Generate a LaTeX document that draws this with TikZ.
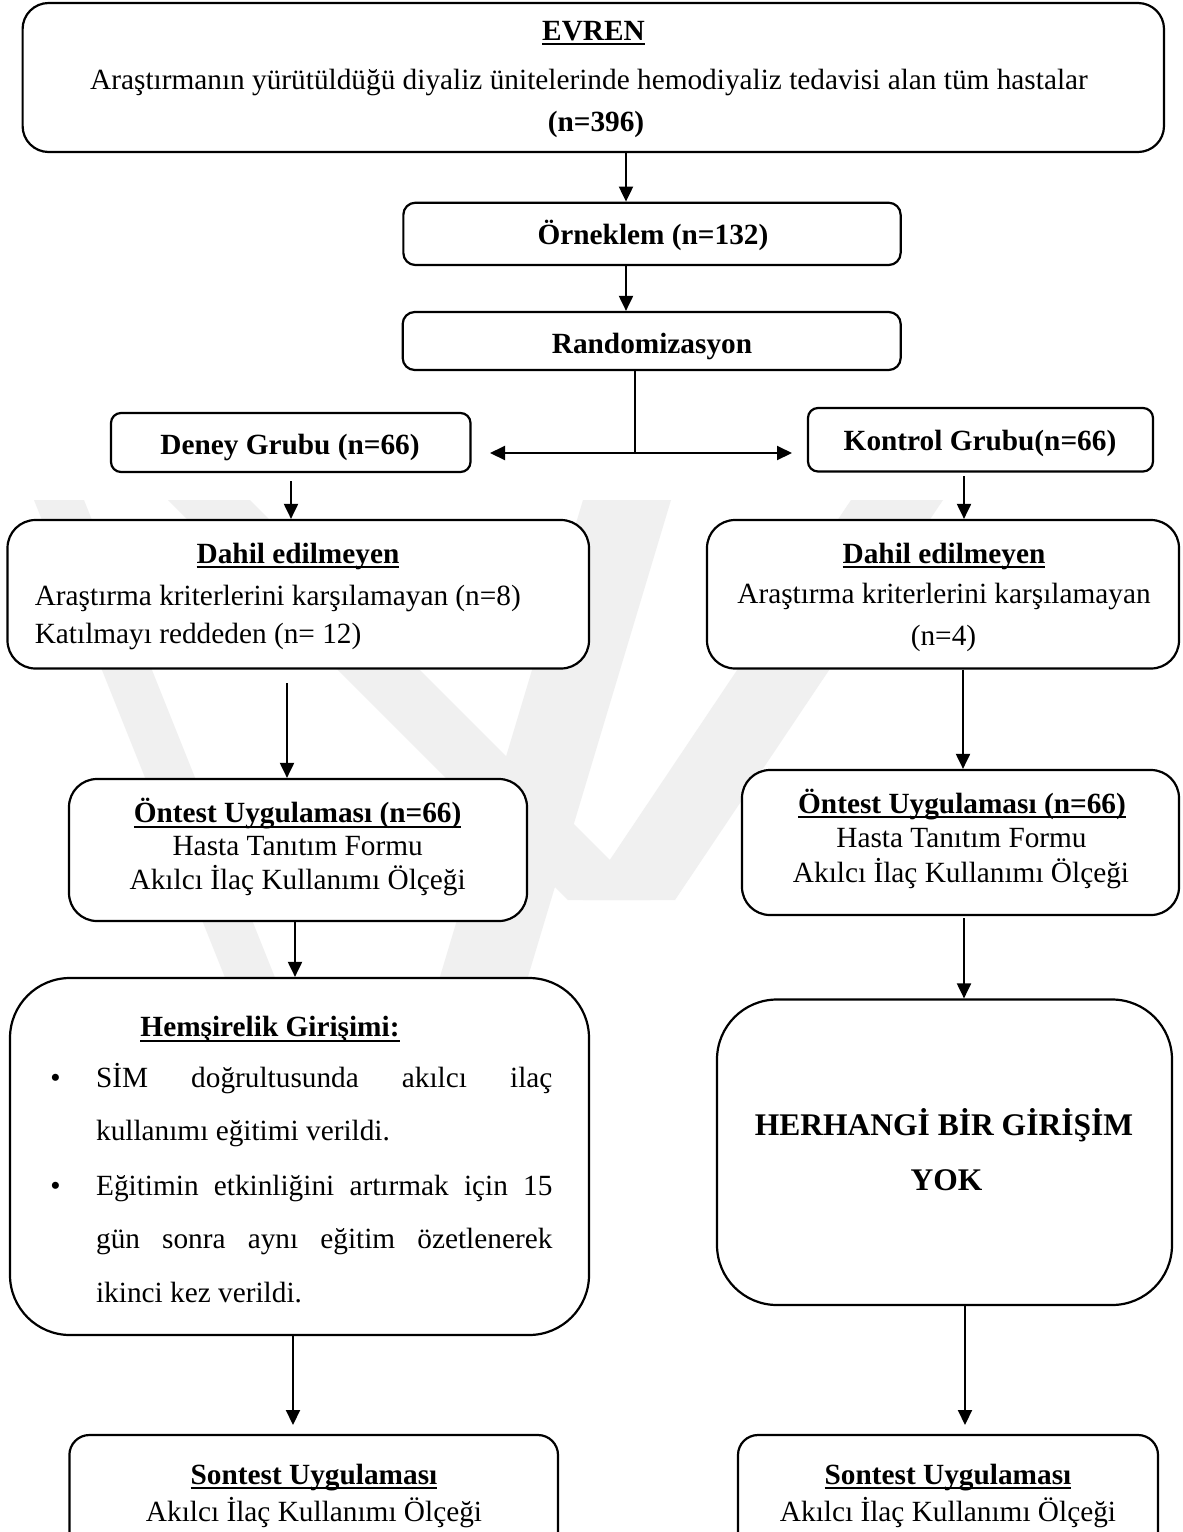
\documentclass[tikz,border=0pt]{standalone}
\usepackage{fontspec}
\setmainfont{Liberation Serif}
\usetikzlibrary{arrows.meta}
\newcommand\ulx[1]{\setbox0=\hbox{#1}\rlap{\rule[-2.6pt]{\wd0}{1pt}}\box0}
\begin{document}
\begin{tikzpicture}[x=0.5pt,y=-0.5pt,
  box/.style={draw, line width=1.1pt, fill=white, inner sep=0pt, rectangle, rounded corners=#1},
  txt/.style={inner sep=0pt, anchor=base, font=\fontsize{14.65pt}{17pt}\selectfont},
  big/.style={inner sep=0pt, anchor=base, font=\fontsize{15.75pt}{18pt}\selectfont\bfseries},
  conn/.style={line width=1pt},
  arr/.style={line width=1pt, -{Triangle[length=7.5pt,width=7pt]}},
  arrboth/.style={line width=1pt, {Triangle[length=7.5pt,width=7pt]}-{Triangle[length=7.5pt,width=7pt]}},
  wm/.style={fill=black!6, draw=none}]
\useasboundingbox (0,0) rectangle (1183,1532);
\clip (0,0) rectangle (1183,1532);
\fill[white] (0,0) rectangle (1183,1532);

% faint watermark
\fill[wm] (34,500) -- (84,500) -- (276,980) -- (226,980) -- cycle;
\fill[wm] (583,500) -- (671,500) -- (527,980) -- (439,980) -- cycle;
\fill[wm] (168,500) -- (250,500) -- (650,900) -- (568,900) -- cycle;
\fill[wm] (851,500) -- (943,500) -- (675,900) -- (583,900) -- cycle;

% boxes
\node[box=13pt, minimum width=570.7pt, minimum height=74.5pt] (evren) at (593.3,77.5) {};
\node[box=6pt, minimum width=248.65pt, minimum height=31.15pt] (orn) at (652,233.85) {};
\node[box=6pt, minimum width=249pt, minimum height=29pt] (rand) at (651.7,341) {};
\node[box=5pt, minimum width=179.75pt, minimum height=29.5pt] (deney) at (290.75,442.5) {};
\node[box=5pt, minimum width=172.5pt, minimum height=31.75pt] (kontrol) at (980.5,439.75) {};
\node[box=14pt, minimum width=290.75pt, minimum height=74.25pt] (dahilL) at (298.25,594.25) {};
\node[box=14pt, minimum width=236pt, minimum height=74.25pt] (dahilR) at (943,594.25) {};
\node[box=14pt, minimum width=229pt, minimum height=71pt] (ontL) at (298,850) {};
\node[box=14pt, minimum width=218.5pt, minimum height=72.5pt] (ontR) at (960.5,842.5) {};
\node[box=30pt, minimum width=289.5pt, minimum height=178.5pt] (hem) at (299.5,1156.5) {};
\node[box=30pt, minimum width=227.5pt, minimum height=152.75pt] (her) at (944.5,1152.25) {};
\node[box=10pt, minimum width=244.3pt, minimum height=70pt] (sonL) at (313.7,1505) {};
\node[box=10pt, minimum width=210pt, minimum height=70pt] (sonR) at (948,1505) {};

% texts
\node[txt] (evrenH) at (593.5,40) {\bfseries\ulx{EVREN}};
\node[txt] (evren2) at (589,89) {Araştırmanın yürütüldüğü diyaliz ünitelerinde hemodiyaliz tedavisi alan tüm hastalar};
\node[txt] (evren3) at (596,131) {\bfseries (n=396)};
\node[txt] (ornT) at (653,244.5) {\bfseries Örneklem (n=132)};
\node[txt] (randT) at (652,353) {\bfseries Randomizasyon};
\node[txt] (deneyT) at (290,454) {\bfseries Deney Grubu (n=66)};
\node[txt] (kontrolT) at (980,450) {\bfseries Kontrol Grubu(n=66)};
\node[txt] (dLH) at (298,563) {\bfseries\ulx{Dahil edilmeyen}};
\node[txt, anchor=base west] (dL2) at (34.4,605) {Araştırma kriterlerini karşılamayan (n=8)};
\node[txt, anchor=base west] (dL3) at (34.4,643) {Katılmayı reddeden (n= 12)};
\node[txt] (dRH) at (944,563) {\bfseries\ulx{Dahil edilmeyen}};
\node[txt] (dR2) at (944,603.5) {Araştırma kriterlerini karşılamayan};
\node[txt] (dR3) at (943.5,645) {(n=4)};
\node[txt] (oLH) at (297.6,822.7) {\bfseries\ulx{Öntest Uygulaması (n=66)}};
\node[txt] (oL2) at (297.7,855) {Hasta Tanıtım Formu};
\node[txt] (oL3) at (297.7,889.5) {Akılcı İlaç Kullanımı Ölçeği};
\node[txt] (oRH) at (962,813) {\bfseries\ulx{Öntest Uygulaması (n=66)}};
\node[txt] (oR2) at (961.5,847) {Hasta Tanıtım Formu};
\node[txt] (oR3) at (961,882) {Akılcı İlaç Kullanımı Ölçeği};
\node[txt] (hH) at (270,1036.5) {\bfseries\ulx{Hemşirelik Girişimi:}};
\node[txt] (b1) at (55.5,1087) {\textbullet};
\node[txt] (b2) at (55.5,1195) {\textbullet};
\node[txt, anchor=base west] (h1) at (95.7,1087) {\makebox[228.15pt][s]{SİM doğrultusunda akılcı ilaç}};
\node[txt, anchor=base west] (h2) at (95.7,1140.5) {kullanımı eğitimi verildi.};
\node[txt, anchor=base west] (h3) at (95.7,1195) {\makebox[228.15pt][s]{Eğitimin etkinliğini artırmak için 15}};
\node[txt, anchor=base west] (h4) at (95.7,1248) {\makebox[228.15pt][s]{gün sonra aynı eğitim özetlenerek}};
\node[txt, anchor=base west] (h5) at (95.7,1302) {ikinci kez verildi.};
\node[big] (her1) at (944,1135.7) {HERHANGİ BİR GİRİŞİM};
\node[big] (her2) at (946.5,1190.7) {YOK};
\node[txt] (sL1) at (314,1484) {\bfseries\ulx{Sontest Uygulaması}};
\node[txt] (sL2) at (314,1521) {Akılcı İlaç Kullanımı Ölçeği};
\node[txt] (sR1) at (948,1484) {\bfseries\ulx{Sontest Uygulaması}};
\node[txt] (sR2) at (948,1521) {Akılcı İlaç Kullanımı Ölçeği};

% connectors
\coordinate (xa) at (626,0);
\draw[arr] (evren.south -| xa) -- (orn.north -| xa);
\draw[arr] (orn.south -| xa) -- (rand.north -| xa);
\coordinate (sj) at (635,453);
\coordinate (tl) at (490,453);
\coordinate (tr) at (792,453);
\draw[conn] (rand.south -| sj) -- (sj);
\draw[arrboth] (tl) -- (tr);
\coordinate (s1) at (291,481);
\draw[arr] (s1) -- (dahilL.north -| s1);
\coordinate (s2) at (964,476);
\draw[arr] (s2) -- (dahilR.north -| s2);
\coordinate (s3) at (287,683);
\draw[arr] (s3) -- (ontL.north -| s3);
\coordinate (x4) at (963,0);
\draw[arr] (dahilR.south -| x4) -- (ontR.north -| x4);
\coordinate (x5) at (295,0);
\draw[arr] (ontL.south -| x5) -- (hem.north -| x5);
\coordinate (s6) at (964,918);
\draw[arr] (s6) -- (her.north -| s6);
\coordinate (x7) at (293,0);
\coordinate (t7) at (293,1425);
\draw[arr] (hem.south -| x7) -- (t7);
\coordinate (x8) at (965,0);
\coordinate (t8) at (965,1425);
\draw[arr] (her.south -| x8) -- (t8);
\end{tikzpicture}
\end{document}
